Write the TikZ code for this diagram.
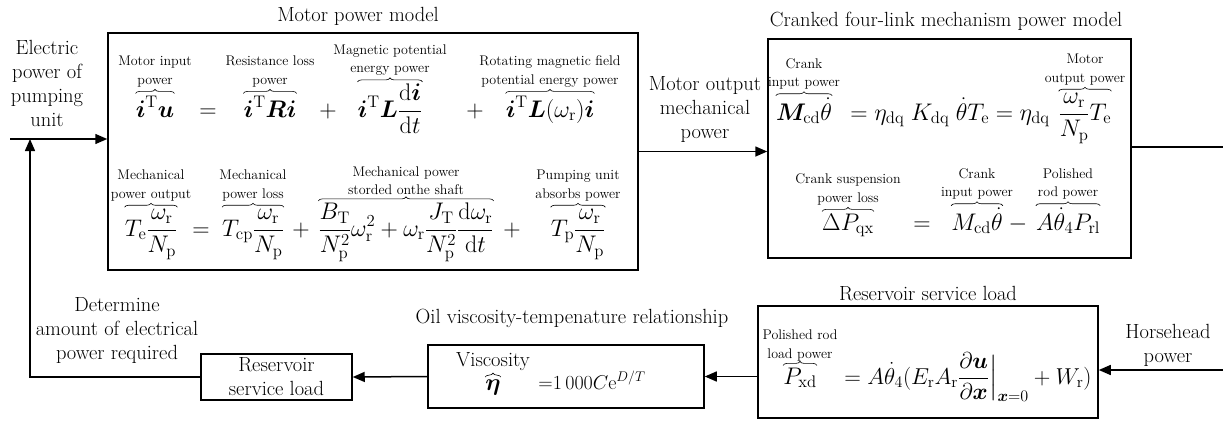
\RequirePackage{fix-cm}
\documentclass[tikz,border=0pt]{standalone}
\usepackage{amsmath}
\usepackage{bm}
\usetikzlibrary{arrows.meta,positioning,decorations.pathreplacing}

\tikzset{
  box/.style={draw, line width=1.5pt, inner sep=0pt},
  lbl/.style={font=\fontsize{14}{18.5}\selectfont, align=center, inner sep=0pt},
  txt/.style={font=\fontsize{20.5}{24}\selectfont, align=center, inner sep=0pt},
  eq/.style={font=\fontsize{24}{28}\selectfont, inner sep=0pt, anchor=base},
  brc/.style={decorate, decoration={brace, amplitude=4pt}, line width=0.6pt},
  arr/.style={line width=1.5pt, -{Triangle[length=12pt,width=10pt]}},
  ln/.style={line width=1.5pt}
}

\begin{document}
\begin{tikzpicture}[x=1pt,y=-1pt]
    \useasboundingbox (0,0) rectangle (1223,421);

    % Kaesten
    \node[box, minimum width=530pt, minimum height=237pt] (motor) at (373,151.5) {};
    \node[box, minimum width=363pt, minimum height=219pt] (crank) at (949.5,148.5) {};
    \node[box, minimum width=340pt, minimum height=112pt] (res) at (928,362) {};
    \node[box, minimum width=276pt, minimum height=63pt] (visc) at (566,376.5) {};
    \node[box, txt, minimum width=151pt, minimum height=46pt] (rsl) at (276.5,377) {Reservoir\\service load};

    % Titel und freie Texte
    \node[txt] (tmotor) at (358,16) {Motor power model};
    \node[txt] (tcrank) at (946,21) {Cranked four-link mechanism power model};
    \node[txt] (tres) at (928,294) {Reservoir service load};
    \node[txt] (toil) at (572,318) {Oil viscosity-tempenature relationship};
    \node[txt] (elec) at (47,83) {Electric\\power of\\pumping\\unit};
    \node[txt] (mout) at (705,109) {Motor output\\mechanical\\power};
    \node[txt] (det) at (117,330) {Determine\\amount of electrical\\power required};
    \node[txt] (horse) at (1168,345) {Horsehead\\power};

    % Motorleistung, erste Zeile
    \node[eq] (m11) at (155,117) {$\displaystyle\bm i^{\mathrm T}\bm u$};
    \node[eq] (m1a) at (208,117) {$=$};
    \node[eq] (m12) at (270,117) {$\displaystyle\bm i^{\mathrm T}\bm R\bm i$};
    \node[eq] (m1b) at (328,117) {$+$};
    \node[eq] (m13) at (390,117) {$\displaystyle\bm i^{\mathrm T}\bm L\frac{\mathrm d\bm i}{\mathrm dt}$};
    \node[eq] (m1c) at (475,117) {$+$};
    \node[eq] (m14) at (550,117) {$\displaystyle\bm i^{\mathrm T}\bm L(\omega_{\mathrm r})\bm i$};
    \node[lbl, above=8pt of m11] (l11) {Motor input\\power};
    \node[lbl, above=8pt of m12] (l12) {Resistance loss\\power};
    \node[lbl, above=8pt of m13] (l13) {Magnetic potential\\energy power};
    \node[lbl, above=8pt of m14] (l14) {Rotating magnetic field\\potential energy power};

    % Motorleistung, zweite Zeile
    \node[eq] (m21) at (151,236) {$\displaystyle T_{\mathrm e}\frac{\omega_{\mathrm r}}{N_{\mathrm p}}$};
    \node[eq] (m2a) at (201,236) {$=$};
    \node[eq] (m22) at (253,236) {$\displaystyle T_{\mathrm{cp}}\frac{\omega_{\mathrm r}}{N_{\mathrm p}}$};
    \node[eq] (m2b) at (301,236) {$+$};
    \node[eq] (m23) at (406,236) {$\displaystyle\frac{B_{\mathrm T}}{N_{\mathrm p}^2}\omega_{\mathrm r}^2+\omega_{\mathrm r}\frac{J_{\mathrm T}}{N_{\mathrm p}^2}\frac{\mathrm d\omega_{\mathrm r}}{\mathrm dt}$};
    \node[eq] (m2c) at (512,236) {$+$};
    \node[eq] (m24) at (578,236) {$\displaystyle T_{\mathrm p}\frac{\omega_{\mathrm r}}{N_{\mathrm p}}$};
    \node[lbl, above=8pt of m21] (l21) {Mechanical\\power output};
    \node[lbl, above=8pt of m22] (l22) {Mechanical\\power loss};
    \node[lbl, above=8pt of m23] (l23) {Mechanical power\\storded onthe shaft};
    \node[lbl, above=8pt of m24] (l24) {Pumping unit\\absorbs power};

    % Kurbel-Viergelenk, erste Zeile
    \node[eq] (c11) at (804,120) {$\displaystyle\bm M_{\mathrm{cd}}\dot{\theta}$};
    \node[eq] (c12) at (950,120) {$\displaystyle=\eta_{\mathrm{dq}}\;K_{\mathrm{dq}}\;\dot{\theta}T_{\mathrm e}=\eta_{\mathrm{dq}}$};
    \node[eq] (c13) at (1085,120) {$\displaystyle\frac{\omega_{\mathrm r}}{N_{\mathrm p}}T_{\mathrm e}$};
    \node[lbl, above=8pt of c11] (k11) {Crank\\input power};
    \node[lbl, above=8pt of c13] (k13) {Motor\\output power};

    % Kurbel-Viergelenk, zweite Zeile
    \node[eq] (c21) at (848,230) {$\displaystyle\Delta P_{\mathrm{qx}}$};
    \node[eq] (c2a) at (922,230) {$=$};
    \node[eq] (c22) at (977,230) {$\displaystyle M_{\mathrm{cd}}\dot{\theta}$};
    \node[eq] (c2b) at (1018,230) {$-$};
    \node[eq] (c23) at (1068,230) {$\displaystyle A\dot{\theta}_4P_{\mathrm{rl}}$};
    \node[lbl, above=8pt of c21] (k21) {Crank suspension\\power loss};
    \node[lbl, above=8pt of c22] (k22) {Crank\\input power};
    \node[lbl, above=8pt of c23] (k23) {Polished\\rod power};

    % Lagerstaettenlast
    \node[eq] (r1) at (800,384) {$\displaystyle P_{\mathrm{xd}}$};
    \node[eq, font=\fontsize{23}{27}\selectfont] (r2) at (968,384) {$\displaystyle=A\dot{\theta}_4(E_{\mathrm r}A_{\mathrm r}\frac{\partial\bm u}{\partial\bm x}\Big|_{\bm x=0}+W_{\mathrm r})$};
    \node[lbl, above=6pt of r1] (q1) {Polished rod\\load power};

    % Viskositaet
    \node[eq] (veta) at (493,390) {$\displaystyle\bm\eta$};
    \node[eq, font=\fontsize{20}{24}\selectfont] (vform) at (592,389) {${=}1\,000C\mathrm e^{D/T}$};
    \node[txt, above=8pt of veta] (vlbl) {Viscosity};

    % geschweifte Klammern
    \foreach \t in {m11,m12,m13,m14,m21,m22,m23,m24,c11,c13,c21,c22,c23,r1,veta}
        \draw[brc] ([yshift=2pt]\t.north west) -- ([yshift=2pt]\t.north east);

    % Verbindungen
    \coordinate (ein) at (10,139);
    \coordinate (fb) at (30,139);
    \coordinate (cout) at (1223,147);
    \coordinate (hin) at (1223,370);
    \draw[arr] (ein) -- (motor.west |- ein);
    \draw[arr] (rsl.west) -| (fb);
    \draw[arr] (motor.east) -- (crank.west |- motor.east);
    \draw[ln] (crank.east |- cout) -- (cout);
    \draw[arr] (hin) -- (res.east |- hin);
    \draw[arr] (res.west |- visc.east) -- (visc.east);
    \draw[arr] (visc.west) -- (rsl.east);
\end{tikzpicture}
\end{document}
